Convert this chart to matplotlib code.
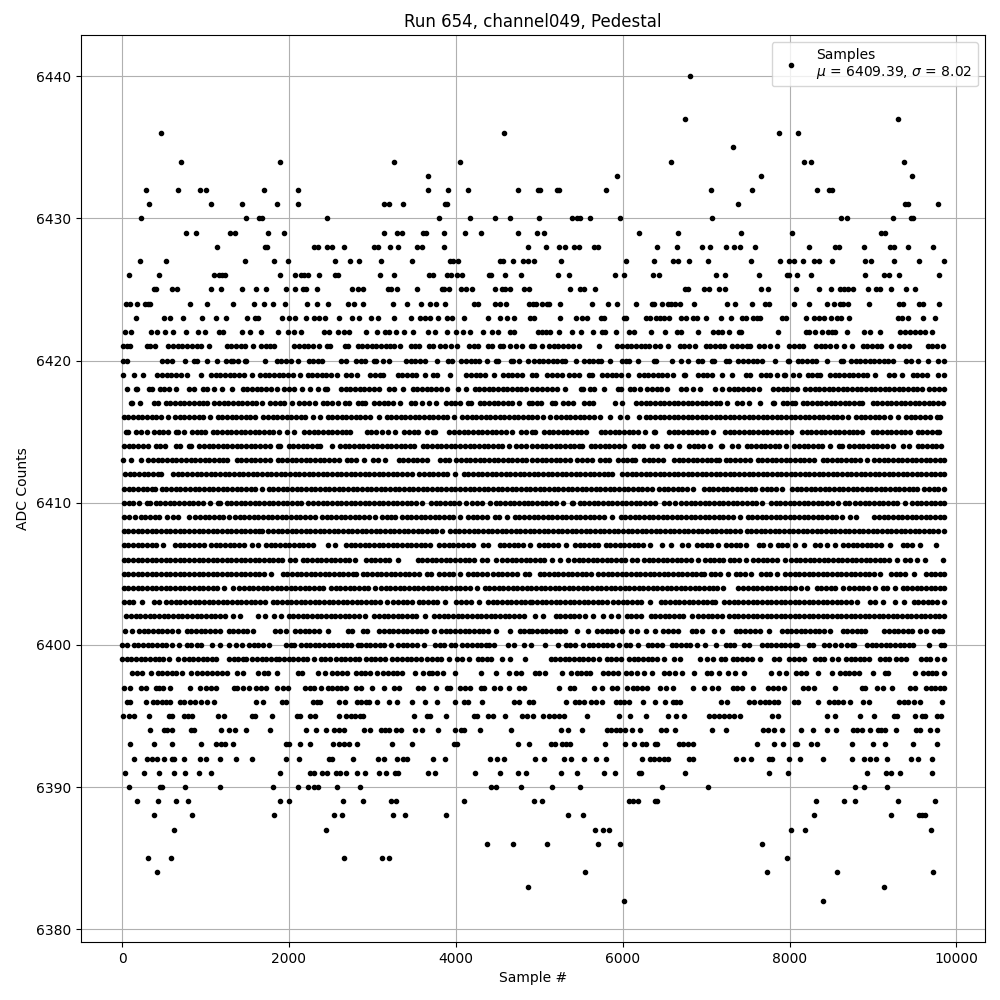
import matplotlib
matplotlib.use("Agg")
import matplotlib.pyplot as plt

# sample numbers at each ADC level
c6440 = [6804]
c6437 = [6744, 9300]
c6436 = [464, 4580, 7872, 8100]
c6435 = [7320]
c6434 = [704, 1892, 3260, 4052, 6576, 8172, 8256, 9372]
c6433 = [3668, 5928, 7656, 9468]
c6432 = [284, 668, 932, 1004, 1700, 2108, 3668, 3908, 4148, 4748, 4980, 5004, 5208, 5232, 5796, 7056, 7548, 8328, 8472, 8508]
c6431 = [320, 1064, 1436, 1856, 2108, 3140, 3200, 3368, 3876, 3900, 7380, 9384, 9420, 9780]
c6430 = [224, 1484, 1640, 1680, 2456, 3800, 4172, 4472, 4652, 4992, 5388, 5448, 5484, 5604, 5964, 7068, 8616, 8688, 9240, 9456, 9480]
c6429 = [764, 884, 1292, 1352, 1748, 1940, 3140, 3296, 3356, 3608, 3644, 3860, 4112, 4304, 4748, 4968, 5052, 6192, 6660, 7416, 8028, 9096, 9144]
c6428 = [1136, 1712, 1736, 2300, 2348, 2456, 2516, 2660, 3020, 3068, 3212, 3308, 3536, 3596, 3860, 4868, 5076, 5232, 5304, 5412, 5472, 5652, 5700, 6408, 6648, 6948, 7044, 7236, 7332, 7404, 7584, 8232, 8544, 8592, 8892, 9204, 9252, 9420, 9720]
c6427 = [212, 524, 1472, 1820, 1988, 2552, 2732, 2840, 3104, 3476, 3932, 3968, 4028, 4532, 4568, 4688, 4808, 4868, 4932, 5256, 6036, 6372, 6600, 6660, 6792, 7020, 7536, 7884, 7992, 8052, 8160, 8292, 8352, 8508, 8904, 8976, 9252, 9552, 9850]
c6426 = [80, 440, 1100, 1160, 1196, 1232, 1892, 2072, 2144, 2180, 2228, 2360, 2552, 2588, 3092, 3260, 3680, 3728, 3896, 3944, 4016, 4076, 4400, 4424, 4592, 4784, 5220, 5352, 5904, 6012, 6360, 6432, 7116, 7224, 7632, 7968, 7992, 8088, 8256, 8904, 9132, 9192, 9312, 9792]
c6425 = [380, 404, 596, 656, 1064, 1184, 1436, 1604, 1724, 1964, 2072, 2168, 2204, 2336, 2756, 2828, 2888, 3188, 3224, 3296, 3536, 3836, 3860, 3920, 4064, 4124, 4196, 4472, 4556, 4592, 4652, 4820, 4880, 5364, 5484, 5532, 5664, 6744, 6780, 6972, 7032, 7152, 7224, 7656, 7740, 8076, 8352, 8496, 8604, 8652, 8700, 8760, 8940, 9036, 9084, 9216, 9396, 9504]
c6424 = [44, 92, 176, 272, 308, 332, 812, 1016, 1328, 1580, 1700, 1808, 1952, 2216, 2336, 2468, 2708, 2780, 2888, 3244, 3416, 3584, 3692, 3764, 3872, 4220, 4268, 4472, 4532, 4604, 4880, 4920, 4956, 5028, 5088, 5112, 5244, 5628, 5820, 5928, 6156, 6348, 6372, 6468, 6540, 6576, 6624, 6684, 6852, 7248, 7344, 7548, 7704, 7752, 8052, 8232, 8448, 8532, 8604, 8640, 8700, 8952, 9312, 9360, 9552, 9600, 9792]
c6423 = [164, 500, 572, 728, 956, 1124, 1244, 1496, 1592, 1628, 1916, 2000, 2072, 2204, 2300, 2360, 2432, 2600, 2756, 2840, 2984, 3068, 3260, 3464, 3572, 3632, 3692, 3788, 3896, 3956, 4100, 4388, 4532, 4616, 4700, 4892, 4932, 5244, 5436, 5508, 5568, 5736, 5772, 6012, 6036, 6276, 6324, 6396, 6444, 6492, 6552, 6696, 6756, 6840, 6888, 6996, 7176, 7296, 7428, 7476, 7560, 7608, 7644, 7908, 7956, 8196, 8292, 8352, 8412, 8496, 8568, 8616, 8712, 9300, 9348, 9420, 9600, 9744]
c6422 = [32, 104, 344, 416, 512, 616, 764, 908, 992, 1160, 1208, 1436, 1532, 1664, 1868, 1988, 2060, 2144, 2420, 2480, 2588, 2660, 2720, 2924, 3056, 3152, 3200, 3284, 3380, 3488, 3668, 3752, 3896, 4004, 4088, 4172, 4328, 4436, 4508, 4652, 4700, 4980, 5028, 5076, 5124, 5232, 5388, 5496, 5640, 5748, 5784, 5916, 6072, 6132, 6336, 6504, 6648, 6696, 6900, 7080, 7140, 7188, 7272, 7392, 7416, 7860, 8196, 8232, 8304, 8388, 8460, 8508, 8544, 8688, 8892, 8964, 9084, 9324, 9384, 9444, 9504, 9564, 9624, 9708]
c6421 = [10, 60, 100, 296, 340, 390, 556, 612, 668, 724, 780, 836, 892, 948, 1036, 1252, 1308, 1364, 1420, 1476, 1572, 1664, 1720, 1776, 1820, 2064, 2120, 2176, 2232, 2288, 2356, 2452, 2496, 2672, 2710, 2824, 2880, 2936, 2992, 3048, 3104, 3160, 3216, 3264, 3332, 3464, 3516, 3564, 3676, 3724, 3812, 3868, 3940, 4020, 4156, 4212, 4264, 4384, 4428, 4524, 4568, 4652, 4724, 4796, 4900, 4940, 5028, 5116, 5172, 5228, 5284, 5340, 5404, 5472, 5712, 5936, 5992, 6048, 6104, 6160, 6216, 6272, 6316, 6388, 6452, 6540, 6684, 6740, 6796, 6868, 6996, 7052, 7108, 7164, 7212, 7316, 7372, 7428, 7484, 7524, 7636, 7692, 7768, 7852, 7996, 8052, 8108, 8160, 8316, 8372, 8428, 8484, 8552, 8656, 8752, 8876, 8932, 8988, 9044, 9100, 9212, 9316, 9372, 9432, 9656, 9712, 9768, 9836]
c6420 = [10, 56, 484, 540, 596, 752, 864, 900, 1020, 1136, 1244, 1300, 1328, 1388, 1476, 1484, 1712, 1852, 1908, 1964, 2020, 2108, 2236, 2292, 2348, 2400, 2624, 2680, 2804, 2860, 2916, 3024, 3040, 3132, 3200, 3404, 3460, 3516, 3572, 3636, 3776, 3904, 3960, 4064, 4120, 4176, 4232, 4280, 4372, 4484, 4500, 4664, 4680, 4760, 4860, 4936, 4992, 5048, 5104, 5160, 5216, 5272, 5312, 5440, 5536, 5592, 5648, 5704, 5736, 5844, 5988, 6044, 6072, 6180, 6376, 6396, 6588, 6696, 6780, 6900, 6956, 7076, 7096, 7236, 7272, 7388, 7444, 7500, 7556, 7612, 7668, 7824, 7976, 7996, 8096, 8152, 8208, 8264, 8316, 8444, 8616, 8644, 8736, 8792, 8848, 8904, 8960, 9016, 9072, 9128, 9184, 9236, 9396, 9452, 9536, 9660, 9776, 9848]
c6419 = [8, 140, 248, 424, 480, 536, 592, 648, 704, 776, 940, 1064, 1120, 1176, 1232, 1288, 1344, 1400, 1456, 1556, 1652, 1708, 1764, 1820, 1876, 1932, 1988, 2044, 2136, 2224, 2280, 2336, 2392, 2448, 2504, 2576, 2684, 2740, 2816, 2976, 3032, 3088, 3124, 3304, 3360, 3416, 3472, 3528, 3636, 3724, 3780, 3936, 4124, 4180, 4236, 4292, 4348, 4456, 4564, 4620, 4676, 4732, 4796, 4916, 4966, 5096, 5152, 5208, 5268, 5356, 5412, 5476, 5596, 5628, 5756, 5812, 5868, 5924, 5980, 6068, 6196, 6252, 6308, 6364, 6420, 6476, 6532, 6608, 6736, 6748, 6904, 6960, 7016, 7072, 7188, 7308, 7476, 7528, 7656, 7712, 7768, 7848, 7936, 7948, 8036, 8116, 8216, 8272, 8328, 8368, 8484, 8540, 8596, 8652, 8708, 8764, 8820, 8876, 8932, 9028, 9196, 9252, 9348, 9476, 9532, 9588, 9648, 9780, 9848]
c6418 = [60, 164, 176, 324, 356, 452, 508, 564, 644, 804, 856, 964, 1020, 1096, 1192, 1312, 1444, 1500, 1556, 1612, 1668, 1724, 1780, 1856, 1944, 2000, 2056, 2152, 2252, 2348, 2436, 2456, 2624, 2680, 2736, 2792, 2848, 2904, 2960, 3016, 3076, 3204, 3260, 3364, 3484, 3540, 3596, 3652, 3708, 3764, 3820, 3896, 4024, 4116, 4224, 4280, 4336, 4392, 4448, 4504, 4560, 4616, 4672, 4728, 4784, 4840, 4916, 4972, 5028, 5096, 5152, 5208, 5308, 5496, 5528, 5604, 5660, 5780, 5948, 5980, 6084, 6140, 6208, 6296, 6352, 6408, 6464, 6528, 6704, 6760, 6848, 6932, 7108, 7196, 7276, 7332, 7388, 7444, 7500, 7556, 7636, 7804, 7860, 7916, 7972, 8028, 8088, 8188, 8244, 8300, 8356, 8412, 8468, 8524, 8580, 8636, 8692, 8748, 8804, 8860, 8916, 8972, 9028, 9084, 9140, 9196, 9252, 9308, 9364, 9420, 9476, 9532, 9588, 9676, 9732, 9788, 9848]
c6417 = [104, 116, 220, 384, 436, 524, 580, 636, 692, 748, 804, 860, 916, 972, 1016, 1104, 1160, 1216, 1272, 1328, 1384, 1440, 1496, 1552, 1608, 1676, 1776, 1832, 1888, 1944, 2036, 2124, 2180, 2236, 2308, 2404, 2460, 2516, 2588, 2676, 2716, 2824, 2880, 2916, 3024, 3080, 3136, 3192, 3248, 3336, 3464, 3516, 3600, 3680, 3760, 3884, 3940, 3996, 4056, 4144, 4176, 4284, 4340, 4396, 4452, 4508, 4564, 4620, 4676, 4756, 4876, 4916, 4976, 5024, 5156, 5188, 5284, 5340, 5408, 5536, 5592, 5648, 5908, 5996, 6164, 6220, 6276, 6332, 6388, 6444, 6500, 6556, 6612, 6668, 6724, 6780, 6836, 6892, 6948, 7004, 7060, 7116, 7172, 7252, 7376, 7432, 7508, 7644, 7796, 7808, 7916, 7972, 8028, 8068, 8156, 8212, 8268, 8324, 8380, 8436, 8492, 8548, 8604, 8660, 8716, 8772, 8828, 8868, 8996, 9052, 9108, 9164, 9220, 9276, 9332, 9388, 9444, 9500, 9556, 9612, 9668, 9724, 9780, 9836]
c6416 = [20, 76, 132, 188, 244, 300, 356, 412, 468, 556, 636, 692, 748, 804, 860, 916, 972, 1056, 1144, 1200, 1256, 1312, 1368, 1424, 1480, 1536, 1596, 1692, 1748, 1804, 1860, 1916, 1972, 2028, 2084, 2140, 2196, 2284, 2372, 2464, 2520, 2576, 2632, 2688, 2744, 2800, 2856, 2912, 2968, 3076, 3172, 3228, 3284, 3340, 3396, 3452, 3508, 3564, 3620, 3676, 3732, 3788, 3844, 3900, 3976, 4076, 4132, 4188, 4244, 4300, 4356, 4412, 4468, 4524, 4580, 4636, 4692, 4748, 4804, 4860, 4916, 4972, 5048, 5124, 5204, 5260, 5316, 5372, 5428, 5484, 5540, 5596, 5652, 5728, 5844, 5972, 6052, 6192, 6276, 6332, 6388, 6444, 6500, 6556, 6612, 6668, 6724, 6780, 6836, 6892, 6948, 7004, 7060, 7116, 7172, 7228, 7284, 7340, 7396, 7452, 7508, 7564, 7620, 7676, 7732, 7788, 7844, 7900, 7956, 8012, 8068, 8124, 8180, 8236, 8292, 8348, 8404, 8460, 8516, 8572, 8628, 8700, 8796, 8852, 8908, 8964, 9020, 9076, 9132, 9208, 9304, 9396, 9452, 9508, 9564, 9620, 9688, 9764, 9808]
c6415 = [44, 68, 172, 228, 296, 384, 440, 496, 556, 652, 668, 740, 836, 892, 948, 996, 1084, 1140, 1196, 1252, 1308, 1364, 1420, 1476, 1532, 1588, 1644, 1700, 1756, 1812, 1876, 1976, 2056, 2184, 2240, 2296, 2352, 2408, 2464, 2520, 2576, 2632, 2688, 2736, 2932, 2988, 3044, 3116, 3188, 3268, 3384, 3440, 3496, 3552, 3656, 3732, 3756, 3924, 3980, 4036, 4092, 4148, 4204, 4260, 4316, 4372, 4428, 4484, 4540, 4596, 4676, 4784, 4840, 4916, 4948, 5056, 5112, 5168, 5224, 5280, 5336, 5392, 5448, 5504, 5556, 5736, 5792, 5848, 5904, 5960, 6016, 6072, 6128, 6184, 6268, 6376, 6388, 6556, 6612, 6668, 6724, 6780, 6836, 6892, 6948, 7004, 7088, 7228, 7284, 7340, 7396, 7452, 7508, 7564, 7620, 7676, 7732, 7788, 7844, 7900, 7956, 8020, 8148, 8204, 8260, 8316, 8372, 8428, 8484, 8540, 8596, 8652, 8708, 8764, 8808, 8872, 8996, 9052, 9108, 9164, 9220, 9276, 9332, 9388, 9448, 9536, 9592, 9648, 9704, 9764, 9796]
c6414 = [24, 80, 136, 192, 248, 316, 404, 460, 516, 644, 696, 796, 828, 924, 980, 1036, 1092, 1148, 1204, 1260, 1316, 1372, 1428, 1484, 1540, 1596, 1652, 1708, 1776, 1864, 1896, 1996, 2052, 2108, 2164, 2220, 2276, 2332, 2376, 2516, 2612, 2668, 2724, 2780, 2836, 2892, 2948, 3004, 3060, 3116, 3172, 3228, 3284, 3340, 3396, 3452, 3496, 3604, 3660, 3716, 3772, 3828, 3884, 3940, 3996, 4052, 4108, 4164, 4220, 4276, 4332, 4388, 4444, 4500, 4556, 4636, 4724, 4780, 4836, 4916, 4972, 5028, 5084, 5140, 5196, 5252, 5308, 5364, 5420, 5476, 5508, 5616, 5672, 5728, 5784, 5840, 5896, 5952, 6020, 6136, 6192, 6248, 6348, 6408, 6516, 6576, 6676, 6796, 6852, 6908, 6964, 7048, 7176, 7188, 7308, 7380, 7484, 7540, 7596, 7652, 7708, 7764, 7820, 7876, 7956, 8056, 8112, 8168, 8224, 8280, 8336, 8392, 8488, 8596, 8628, 8716, 8772, 8828, 8884, 8940, 8996, 9052, 9108, 9164, 9236, 9356, 9428, 9536, 9592, 9648, 9704, 9760, 9820]
c6413 = [12, 108, 228, 316, 372, 428, 484, 540, 596, 652, 708, 764, 820, 876, 932, 988, 1044, 1100, 1156, 1212, 1256, 1372, 1428, 1484, 1540, 1596, 1652, 1708, 1776, 1864, 1920, 1976, 2032, 2088, 2144, 2200, 2256, 2312, 2368, 2424, 2480, 2536, 2604, 2692, 2748, 2804, 2896, 3012, 3068, 3148, 3316, 3372, 3428, 3484, 3540, 3596, 3660, 3812, 3868, 3924, 4004, 4060, 4116, 4172, 4228, 4284, 4340, 4396, 4452, 4508, 4564, 4620, 4676, 4732, 4788, 4844, 4916, 4972, 5028, 5084, 5140, 5196, 5252, 5308, 5368, 5456, 5512, 5568, 5636, 5728, 5784, 5836, 5944, 6000, 6056, 6112, 6148, 6256, 6312, 6368, 6424, 6488, 6616, 6672, 6728, 6784, 6840, 6896, 6952, 7008, 7064, 7120, 7156, 7236, 7292, 7348, 7404, 7460, 7528, 7616, 7672, 7728, 7784, 7840, 7896, 7952, 8008, 8064, 8120, 8176, 8232, 8288, 8396, 8452, 8508, 8564, 8620, 8676, 8732, 8788, 8844, 8928, 9016, 9072, 9128, 9184, 9240, 9296, 9352, 9408, 9464, 9520, 9576, 9632, 9688, 9744, 9800, 9850]
c6412 = [36, 92, 148, 204, 260, 316, 372, 428, 468, 612, 668, 724, 780, 836, 892, 948, 1004, 1060, 1116, 1172, 1228, 1284, 1340, 1396, 1452, 1508, 1564, 1620, 1676, 1732, 1788, 1844, 1900, 1956, 2012, 2068, 2124, 2180, 2236, 2292, 2348, 2404, 2460, 2516, 2572, 2628, 2684, 2740, 2796, 2852, 2908, 2964, 3020, 3076, 3132, 3188, 3244, 3300, 3356, 3412, 3476, 3564, 3620, 3676, 3732, 3788, 3844, 3900, 3996, 4092, 4148, 4204, 4260, 4316, 4372, 4428, 4484, 4540, 4596, 4652, 4708, 4764, 4820, 4876, 4932, 4988, 5044, 5100, 5156, 5212, 5268, 5324, 5380, 5436, 5492, 5548, 5604, 5660, 5716, 5772, 5828, 5868, 5996, 6052, 6108, 6164, 6220, 6276, 6332, 6388, 6444, 6500, 6556, 6612, 6668, 6724, 6780, 6836, 6892, 6948, 7004, 7060, 7116, 7172, 7228, 7284, 7340, 7396, 7452, 7508, 7564, 7620, 7676, 7732, 7788, 7844, 7900, 7956, 8012, 8068, 8124, 8180, 8236, 8292, 8348, 8404, 8460, 8516, 8572, 8628, 8684, 8740, 8796, 8852, 8908, 8964, 9020, 9076, 9132, 9188, 9244, 9300, 9356, 9412, 9468, 9524, 9580, 9636, 9692, 9748, 9804, 9848]
c6411 = [24, 80, 136, 192, 248, 304, 360, 396, 476, 532, 588, 644, 700, 756, 812, 868, 924, 980, 1036, 1092, 1148, 1204, 1260, 1316, 1372, 1428, 1484, 1540, 1596, 1676, 1756, 1812, 1868, 1924, 1980, 2036, 2092, 2148, 2204, 2260, 2316, 2372, 2428, 2484, 2540, 2596, 2652, 2708, 2764, 2820, 2876, 2932, 2988, 3044, 3100, 3156, 3212, 3268, 3324, 3380, 3436, 3492, 3548, 3604, 3660, 3716, 3772, 3828, 3884, 3940, 3996, 4052, 4108, 4164, 4220, 4276, 4332, 4388, 4444, 4500, 4556, 4612, 4668, 4724, 4780, 4836, 4892, 4948, 5004, 5060, 5116, 5172, 5228, 5284, 5340, 5396, 5452, 5508, 5564, 5620, 5676, 5732, 5788, 5844, 5900, 5956, 6012, 6068, 6124, 6180, 6236, 6288, 6352, 6436, 6492, 6548, 6604, 6660, 6716, 6772, 6848, 6976, 7032, 7088, 7144, 7200, 7256, 7312, 7368, 7424, 7480, 7536, 7588, 7668, 7724, 7780, 7836, 7908, 8028, 8084, 8140, 8196, 8252, 8308, 8364, 8420, 8476, 8532, 8588, 8644, 8700, 8756, 8812, 8868, 8924, 8980, 9036, 9092, 9148, 9204, 9260, 9316, 9372, 9428, 9484, 9528, 9616, 9672, 9728, 9784, 9848]
c6410 = [24, 80, 136, 204, 304, 336, 404, 460, 516, 572, 628, 684, 740, 796, 852, 908, 964, 1056, 1144, 1176, 1252, 1308, 1364, 1420, 1476, 1532, 1588, 1644, 1700, 1756, 1812, 1868, 1924, 1980, 2036, 2092, 2148, 2228, 2292, 2348, 2404, 2460, 2516, 2572, 2628, 2684, 2740, 2796, 2852, 2908, 2964, 3020, 3076, 3132, 3188, 3244, 3300, 3356, 3412, 3468, 3524, 3596, 3704, 3760, 3816, 3872, 3928, 3984, 4040, 4116, 4196, 4252, 4308, 4404, 4476, 4532, 4588, 4644, 4700, 4756, 4812, 4868, 4916, 4972, 5028, 5084, 5140, 5196, 5288, 5388, 5408, 5484, 5540, 5596, 5652, 5708, 5764, 5820, 5876, 5932, 5988, 6044, 6100, 6156, 6212, 6268, 6324, 6388, 6500, 6556, 6628, 6704, 6760, 6816, 6872, 6928, 6984, 7040, 7096, 7152, 7208, 7264, 7320, 7376, 7432, 7488, 7544, 7600, 7668, 7776, 7832, 7888, 7944, 8000, 8056, 8112, 8168, 8224, 8280, 8336, 8392, 8448, 8504, 8580, 8668, 8708, 8788, 8844, 8900, 8956, 9012, 9068, 9124, 9180, 9236, 9292, 9380, 9468, 9524, 9580, 9636, 9692, 9748, 9804, 9848]
c6409 = [24, 80, 156, 224, 280, 336, 392, 448, 536, 612, 668, 796, 876, 932, 988, 1044, 1100, 1156, 1212, 1276, 1352, 1408, 1464, 1520, 1576, 1632, 1688, 1744, 1800, 1856, 1912, 1968, 2024, 2080, 2136, 2192, 2248, 2316, 2396, 2452, 2508, 2564, 2620, 2676, 2732, 2788, 2844, 2900, 2956, 3036, 3116, 3172, 3228, 3276, 3356, 3412, 3468, 3524, 3580, 3636, 3692, 3748, 3804, 3860, 3916, 3972, 4056, 4144, 4200, 4256, 4312, 4376, 4464, 4520, 4616, 4704, 4760, 4816, 4876, 4932, 4988, 5044, 5100, 5156, 5212, 5268, 5324, 5380, 5436, 5492, 5548, 5604, 5660, 5716, 5772, 5868, 5976, 6032, 6088, 6144, 6200, 6256, 6312, 6368, 6424, 6480, 6536, 6592, 6648, 6704, 6760, 6816, 6872, 6928, 6984, 7040, 7096, 7152, 7208, 7264, 7320, 7408, 7496, 7552, 7608, 7664, 7720, 7776, 7832, 7888, 7944, 8000, 8056, 8112, 8168, 8224, 8280, 8336, 8392, 8448, 8504, 8560, 8628, 8724, 8796, 9016, 9072, 9128, 9184, 9240, 9296, 9352, 9408, 9464, 9520, 9576, 9632, 9688, 9744, 9800, 9850]
c6408 = [20, 76, 132, 188, 244, 300, 356, 412, 468, 524, 580, 636, 692, 748, 804, 860, 916, 972, 1028, 1084, 1140, 1196, 1252, 1308, 1364, 1420, 1476, 1532, 1588, 1644, 1676, 1752, 1808, 1864, 1920, 1976, 2032, 2088, 2144, 2200, 2256, 2312, 2368, 2424, 2480, 2536, 2592, 2648, 2704, 2760, 2816, 2872, 2928, 2984, 3040, 3096, 3152, 3208, 3264, 3320, 3376, 3432, 3488, 3544, 3600, 3656, 3712, 3768, 3836, 3932, 3988, 4044, 4100, 4156, 4212, 4268, 4324, 4380, 4436, 4492, 4548, 4604, 4660, 4716, 4772, 4828, 4884, 4940, 4996, 5052, 5108, 5164, 5220, 5276, 5332, 5388, 5444, 5500, 5556, 5612, 5668, 5724, 5780, 5836, 5892, 5948, 6004, 6060, 6116, 6172, 6228, 6284, 6340, 6396, 6452, 6508, 6564, 6620, 6676, 6732, 6788, 6844, 6900, 6956, 7012, 7068, 7124, 7180, 7236, 7292, 7348, 7408, 7484, 7540, 7596, 7652, 7708, 7764, 7820, 7876, 7932, 7988, 8044, 8100, 8156, 8212, 8268, 8324, 8380, 8436, 8492, 8548, 8604, 8660, 8716, 8772, 8828, 8884, 8940, 8996, 9052, 9108, 9164, 9220, 9276, 9332, 9388, 9444, 9500, 9556, 9612, 9668, 9724, 9780, 9848]
c6407 = [20, 76, 132, 188, 244, 300, 356, 412, 496, 636, 692, 748, 804, 860, 916, 976, 1064, 1120, 1176, 1232, 1288, 1344, 1400, 1456, 1556, 1628, 1724, 1780, 1836, 1892, 1948, 2004, 2060, 2116, 2172, 2228, 2284, 2468, 2556, 2684, 2740, 2796, 2852, 2908, 2964, 3020, 3076, 3132, 3188, 3244, 3300, 3356, 3412, 3468, 3524, 3580, 3636, 3696, 3804, 3860, 3916, 3972, 4028, 4084, 4140, 4204, 4324, 4388, 4524, 4580, 4636, 4692, 4748, 4804, 4892, 4996, 5052, 5108, 5164, 5220, 5316, 5428, 5484, 5540, 5596, 5652, 5708, 5796, 5852, 5908, 5964, 6020, 6076, 6132, 6188, 6244, 6328, 6476, 6580, 6716, 6780, 6896, 6952, 7008, 7064, 7148, 7244, 7300, 7356, 7412, 7476, 7628, 7684, 7768, 7856, 7912, 7968, 8060, 8172, 8308, 8364, 8448, 8540, 8644, 8700, 8756, 8812, 8868, 8924, 8980, 9036, 9092, 9208, 9356, 9412, 9468, 9568, 9752]
c6406 = [20, 76, 132, 188, 244, 300, 356, 412, 468, 524, 580, 636, 692, 748, 804, 860, 916, 972, 1028, 1084, 1140, 1196, 1252, 1308, 1364, 1420, 1476, 1532, 1588, 1644, 1700, 1756, 1812, 1868, 1916, 2012, 2076, 2164, 2220, 2276, 2332, 2388, 2444, 2500, 2556, 2612, 2668, 2724, 2796, 2924, 2980, 3036, 3092, 3148, 3204, 3304, 3544, 3600, 3656, 3712, 3768, 3824, 3880, 3936, 3992, 4048, 4104, 4160, 4216, 4316, 4372, 4476, 4556, 4612, 4668, 4724, 4780, 4836, 4892, 4948, 5004, 5060, 5148, 5244, 5340, 5416, 5472, 5528, 5584, 5640, 5696, 5752, 5808, 5864, 5920, 5976, 6028, 6108, 6168, 6256, 6312, 6368, 6424, 6480, 6536, 6592, 6648, 6704, 6760, 6816, 6900, 6988, 7044, 7100, 7156, 7208, 7284, 7340, 7396, 7476, 7564, 7620, 7676, 7732, 7788, 7844, 7940, 8016, 8072, 8128, 8184, 8240, 8296, 8352, 8408, 8464, 8520, 8576, 8632, 8688, 8744, 8800, 8856, 8912, 8968, 9024, 9080, 9136, 9192, 9288, 9388, 9444, 9528, 9624, 9844]
c6405 = [20, 76, 132, 188, 244, 300, 356, 412, 468, 524, 580, 636, 692, 748, 804, 860, 916, 972, 1028, 1084, 1140, 1196, 1252, 1308, 1364, 1420, 1476, 1532, 1588, 1644, 1700, 1788, 1924, 1980, 2036, 2092, 2148, 2204, 2260, 2316, 2372, 2428, 2484, 2540, 2596, 2652, 2708, 2764, 2804, 2884, 2940, 2996, 3052, 3108, 3164, 3220, 3276, 3332, 3388, 3444, 3500, 3556, 3656, 3708, 3804, 3860, 3916, 3972, 4056, 4144, 4200, 4256, 4312, 4376, 4444, 4500, 4556, 4612, 4668, 4736, 4824, 4876, 5004, 5060, 5116, 5172, 5228, 5284, 5340, 5396, 5452, 5508, 5564, 5620, 5708, 5764, 5820, 5876, 5932, 5988, 6044, 6100, 6156, 6212, 6268, 6324, 6380, 6436, 6492, 6548, 6604, 6660, 6716, 6772, 6828, 6884, 6940, 6980, 7056, 7112, 7168, 7268, 7356, 7412, 7468, 7540, 7656, 7712, 7768, 7848, 7948, 8004, 8060, 8116, 8172, 8228, 8284, 8340, 8396, 8452, 8508, 8564, 8620, 8676, 8732, 8788, 8844, 8900, 8956, 9012, 9088, 9216, 9272, 9328, 9384, 9488, 9636, 9692, 9748, 9804, 9848]
c6404 = [20, 76, 132, 188, 244, 300, 356, 412, 468, 524, 580, 636, 692, 748, 804, 860, 916, 972, 1028, 1084, 1136, 1224, 1324, 1404, 1460, 1516, 1572, 1628, 1684, 1740, 1796, 1852, 1908, 1964, 2020, 2076, 2132, 2188, 2244, 2300, 2356, 2404, 2504, 2560, 2616, 2672, 2728, 2784, 2840, 2896, 2952, 3028, 3104, 3160, 3216, 3272, 3328, 3384, 3440, 3496, 3552, 3608, 3664, 3720, 3776, 3832, 3888, 3944, 4000, 4056, 4112, 4168, 4256, 4344, 4400, 4456, 4512, 4568, 4624, 4680, 4736, 4792, 4848, 4904, 4960, 5016, 5072, 5128, 5184, 5240, 5296, 5352, 5408, 5464, 5520, 5576, 5632, 5688, 5744, 5800, 5856, 5912, 5968, 6024, 6080, 6136, 6192, 6248, 6304, 6360, 6416, 6472, 6528, 6584, 6640, 6696, 6752, 6808, 6864, 6920, 6976, 7032, 7088, 7128, 7204, 7388, 7444, 7500, 7556, 7612, 7668, 7724, 7780, 7836, 7892, 7948, 8004, 8060, 8136, 8208, 8324, 8380, 8436, 8492, 8548, 8636, 8716, 8772, 8828, 8884, 8940, 9028, 9116, 9172, 9268, 9356, 9412, 9468, 9524, 9580, 9636, 9692, 9748, 9804, 9848]
c6403 = [24, 80, 136, 244, 384, 448, 532, 588, 644, 700, 756, 812, 868, 924, 980, 1036, 1092, 1148, 1204, 1260, 1316, 1372, 1428, 1484, 1540, 1596, 1652, 1716, 1804, 1860, 1916, 1972, 2028, 2084, 2140, 2196, 2252, 2308, 2364, 2420, 2476, 2532, 2588, 2644, 2700, 2756, 2812, 2868, 2924, 2980, 3036, 3092, 3176, 3252, 3308, 3364, 3420, 3476, 3556, 3612, 3668, 3724, 3780, 3868, 4004, 4060, 4116, 4176, 4276, 4384, 4440, 4496, 4552, 4608, 4664, 4720, 4776, 4832, 4888, 4916, 4972, 5028, 5084, 5140, 5196, 5252, 5308, 5364, 5420, 5476, 5532, 5588, 5644, 5700, 5756, 5808, 5888, 5944, 6000, 6056, 6112, 6168, 6224, 6328, 6456, 6512, 6568, 6624, 6680, 6736, 6792, 6848, 6904, 6960, 7016, 7072, 7108, 7220, 7276, 7332, 7388, 7444, 7500, 7556, 7612, 7668, 7724, 7780, 7836, 7892, 7948, 8004, 8060, 8116, 8172, 8228, 8284, 8340, 8396, 8452, 8508, 8564, 8620, 8676, 8732, 8808, 8964, 9020, 9116, 9268, 9368, 9488, 9544, 9600, 9656, 9712, 9768, 9848]
c6402 = [52, 108, 164, 220, 276, 332, 388, 444, 500, 556, 612, 668, 724, 780, 836, 892, 948, 1004, 1060, 1116, 1172, 1236, 1332, 1416, 1624, 1716, 1824, 1908, 1996, 2052, 2108, 2164, 2220, 2276, 2332, 2388, 2444, 2500, 2556, 2612, 2668, 2724, 2780, 2836, 2916, 3024, 3080, 3136, 3192, 3248, 3304, 3360, 3416, 3472, 3528, 3628, 3744, 3800, 3856, 3912, 3968, 4024, 4080, 4136, 4192, 4248, 4304, 4360, 4416, 4472, 4528, 4584, 4640, 4696, 4752, 4816, 4948, 5048, 5196, 5252, 5308, 5364, 5420, 5476, 5548, 5648, 5768, 5856, 5940, 6048, 6104, 6160, 6220, 6336, 6392, 6448, 6504, 6560, 6616, 6672, 6728, 6828, 6908, 6964, 7020, 7076, 7132, 7188, 7276, 7332, 7388, 7444, 7500, 7556, 7612, 7668, 7724, 7780, 7836, 7892, 7948, 8004, 8060, 8116, 8172, 8228, 8284, 8340, 8396, 8452, 8508, 8564, 8620, 8676, 8732, 8788, 8844, 8900, 8956, 9012, 9068, 9124, 9180, 9236, 9292, 9348, 9404, 9460, 9516, 9572, 9628, 9684, 9740, 9796, 9848]
c6401 = [36, 116, 204, 260, 316, 372, 428, 484, 540, 596, 676, 772, 828, 884, 940, 996, 1052, 1108, 1176, 1276, 1332, 1388, 1444, 1500, 1564, 1836, 1892, 1964, 2076, 2132, 2188, 2244, 2300, 2356, 2468, 2704, 2756, 2884, 2936, 3084, 3140, 3196, 3252, 3308, 3364, 3420, 3476, 3532, 3588, 3644, 3736, 3824, 3880, 3936, 3992, 4048, 4104, 4160, 4216, 4272, 4328, 4384, 4476, 4652, 4764, 4820, 4876, 4916, 4972, 5028, 5084, 5140, 5196, 5252, 5308, 5452, 5580, 5696, 5752, 5808, 5864, 5920, 5988, 6096, 6168, 6284, 6392, 6488, 6544, 6600, 6668, 6828, 6884, 6956, 7096, 7188, 7356, 7412, 7468, 7524, 7580, 7648, 7752, 7908, 7964, 8020, 8076, 8132, 8188, 8244, 8300, 8356, 8412, 8488, 8636, 8692, 8748, 8804, 8860, 8908, 9136, 9192, 9248, 9304, 9360, 9416, 9472, 9568, 9636, 9736, 9792, 9828]
c6400 = [0, 60, 140, 196, 252, 308, 364, 420, 476, 532, 600, 680, 772, 820, 900, 940, 1076, 1172, 1280, 1360, 1436, 1520, 1576, 1632, 1688, 1760, 1964, 2020, 2060, 2140, 2200, 2252, 2308, 2364, 2420, 2476, 2532, 2588, 2644, 2700, 2740, 2828, 2860, 2920, 2976, 3032, 3088, 3144, 3220, 3308, 3364, 3420, 3476, 3540, 3620, 3752, 3808, 3860, 3940, 3988, 4080, 4136, 4192, 4248, 4304, 4360, 4400, 4460, 4620, 4700, 4820, 4900, 5064, 5220, 5316, 5372, 5428, 5520, 5592, 5648, 5704, 5760, 5816, 5872, 5952, 6036, 6084, 6180, 6300, 6356, 6412, 6468, 6588, 6644, 6700, 6756, 6812, 6888, 6984, 7116, 7236, 7292, 7332, 7452, 7512, 7668, 7724, 7780, 7836, 7892, 7948, 8004, 8060, 8092, 8232, 8280, 8412, 8472, 8544, 8616, 8688, 8744, 8772, 8928, 8984, 9040, 9096, 9152, 9208, 9264, 9320, 9376, 9432, 9480, 9672, 9816, 9850]
c6399 = [0, 56, 112, 168, 224, 280, 340, 396, 440, 488, 560, 668, 740, 796, 852, 908, 964, 1020, 1076, 1120, 1280, 1336, 1392, 1448, 1480, 1560, 1616, 1672, 1728, 1784, 1840, 1880, 1940, 1996, 2052, 2108, 2164, 2220, 2300, 2380, 2436, 2492, 2560, 2620, 2676, 2732, 2788, 2844, 2920, 2980, 3036, 3092, 3148, 3240, 3300, 3356, 3412, 3468, 3524, 3580, 3660, 3716, 3772, 3828, 3920, 4020, 4076, 4160, 4260, 4316, 4372, 4420, 4556, 4652, 4832, 5136, 5192, 5248, 5304, 5360, 5412, 5472, 5528, 5584, 5640, 5712, 5808, 5864, 5920, 5976, 6072, 6132, 6188, 6244, 6300, 6356, 6412, 6492, 6612, 6684, 6924, 7008, 7080, 7176, 7224, 7320, 7376, 7432, 7488, 7544, 7644, 7812, 7872, 7992, 8048, 8112, 8172, 8304, 8360, 8416, 8508, 8580, 8676, 8732, 8788, 8844, 8892, 8952, 9084, 9140, 9192, 9276, 9332, 9396, 9576, 9632, 9688, 9768, 9850]
c6398 = [120, 176, 240, 344, 428, 484, 540, 596, 652, 720, 820, 900, 960, 1016, 1072, 1140, 1200, 1260, 1372, 1452, 1628, 1700, 1748, 1856, 2108, 2160, 2348, 2428, 2516, 2572, 2636, 2692, 2804, 2860, 2916, 2972, 3052, 3132, 3188, 3244, 3300, 3360, 3512, 3608, 3680, 3716, 3772, 3848, 3992, 4304, 4484, 4640, 4724, 4784, 4944, 5000, 5064, 5268, 5376, 5448, 5504, 5560, 5604, 5760, 5820, 5880, 5940, 6036, 6100, 6168, 6252, 6348, 6492, 6556, 6624, 6708, 6852, 7008, 7056, 7152, 7260, 7344, 7452, 7776, 7872, 7956, 8076, 8136, 8196, 8340, 8508, 8604, 8660, 8716, 8772, 8832, 9000, 9144, 9180, 9504, 9600, 9656, 9712, 9756, 9850]
c6397 = [20, 92, 224, 284, 404, 444, 488, 572, 812, 932, 1004, 1064, 1124, 1340, 1376, 1448, 1520, 1604, 1664, 1724, 1856, 1928, 1988, 2192, 2248, 2300, 2384, 2468, 2516, 2572, 2624, 2684, 2804, 2864, 2996, 3140, 3260, 3320, 3548, 3608, 3764, 3896, 3932, 4052, 4112, 4172, 4304, 4340, 4460, 4532, 4640, 4760, 4820, 5232, 5364, 5412, 5652, 5748, 5868, 5928, 6048, 6120, 6176, 6232, 6288, 6444, 6516, 6600, 6840, 6972, 7068, 7140, 7320, 7376, 7428, 7560, 7740, 7800, 7860, 7932, 8160, 8220, 8292, 8544, 8868, 8904, 9048, 9120, 9228, 9444, 9504, 9636, 9692, 9748, 9804, 9850]
c6396 = [56, 92, 284, 368, 424, 476, 524, 572, 692, 740, 812, 872, 944, 1016, 1100, 1604, 1688, 1916, 1964, 2288, 2332, 2372, 2600, 2672, 2816, 2868, 2920, 2960, 3056, 3200, 3296, 3476, 3632, 3776, 3992, 4100, 4140, 4316, 4700, 4760, 4880, 4920, 5316, 5424, 5480, 5532, 5616, 5676, 5748, 5916, 5968, 6012, 6072, 6240, 6384, 6504, 6600, 6644, 6684, 7176, 7248, 7512, 7572, 7644, 7700, 7756, 7812, 7860, 8052, 8100, 8340, 8472, 8528, 8584, 8640, 8724, 8880, 8952, 9312, 9368, 9420, 9492, 9564, 9828]
c6395 = [8, 80, 140, 320, 560, 596, 740, 788, 836, 1148, 1220, 1556, 1592, 1796, 2096, 2132, 2252, 2312, 2600, 2684, 2740, 2796, 2852, 2888, 3500, 3656, 3692, 3884, 4220, 4256, 4388, 4448, 4592, 4796, 4856, 4920, 5040, 5112, 5172, 5232, 5292, 5568, 5952, 6084, 6276, 6540, 6636, 6732, 7032, 7092, 7152, 7212, 7272, 7332, 7404, 7788, 7860, 8448, 8544, 8844, 9012, 9252, 9292, 9504, 9588, 9624, 9768, 9816]
c6394 = [332, 500, 536, 596, 824, 860, 1184, 1280, 1352, 1484, 1772, 2204, 2324, 2444, 2540, 2600, 2660, 2900, 2972, 3104, 3152, 3200, 3284, 3344, 3512, 3596, 3788, 3992, 4064, 4100, 4292, 4664, 5256, 5340, 5508, 5808, 5860, 5916, 5972, 6028, 6108, 6212, 6456, 6516, 6624, 7068, 7236, 7680, 7744, 7812, 7908, 8136, 8280, 8448, 8556, 8760, 8812, 8868, 8964, 9060, 9100, 9144, 9276, 9516, 9564, 9684, 9768]
c6393 = [92, 380, 596, 944, 1124, 1180, 1232, 1328, 1964, 2000, 2132, 2252, 2528, 2600, 2660, 2720, 2816, 3236, 3476, 3980, 4016, 4748, 4880, 5136, 5184, 5268, 5316, 5364, 5784, 6024, 6132, 6228, 6276, 6384, 6408, 6672, 6728, 6784, 6840, 7608, 7812, 7920, 8064, 8088, 8256, 8328, 8748, 9000, 9144, 9480, 9768]
c6392 = [140, 296, 356, 416, 500, 596, 620, 740, 932, 1004, 1168, 1364, 1556, 1964, 2120, 2480, 2516, 2768, 3068, 3140, 3296, 3368, 3416, 3728, 3872, 4412, 4496, 4580, 4944, 5052, 5292, 5376, 5532, 5676, 5796, 6228, 6324, 6380, 6436, 6492, 6540, 6792, 6840, 7356, 7440, 7536, 7752, 7788, 7992, 8124, 8400, 8748, 8892, 8964, 9036, 9168, 9456, 9540, 9708]
c6391 = [32, 260, 440, 620, 752, 920, 1064, 1892, 2252, 2300, 2396, 2456, 2564, 2612, 2684, 2816, 2912, 3080, 3164, 3272, 3308, 3668, 3752, 4232, 4532, 4748, 4844, 5256, 5448, 5772, 5904, 6192, 6216, 6744, 7752, 7980, 8928, 9156, 9216, 9324, 9708]
c6390 = [80, 452, 476, 752, 1172, 1808, 2108, 2228, 2300, 2348, 2576, 2852, 4424, 4484, 4784, 5148, 5484, 6468, 7020, 8784, 8892, 9168]
c6389 = [176, 428, 644, 788, 1892, 2000, 2648, 2888, 3224, 3284, 4100, 4932, 5028, 6072, 6128, 6180, 6384, 6408, 8316, 8652, 8784, 9300, 9744]
c6388 = [380, 836, 1820, 2540, 2636, 3248, 3392, 3884, 5340, 5520, 8292, 9216, 9552, 9588, 9624]
c6387 = [620, 2444, 5664, 5760, 5832, 8016, 8184, 9696]
c6386 = [4376, 4688, 5088, 5700, 5964, 7668]
c6385 = [308, 584, 2660, 3116, 3200, 7968]
c6384 = [416, 5544, 7728, 8568, 9720]
c6383 = [4868, 9132]
c6382 = [6012, 8400]

levels = [6440, 6437, 6436, 6435, 6434, 6433, 6432, 6431, 6430, 6429, 6428, 6427, 6426, 6425, 6424, 6423, 6422,
          6421, 6420, 6419, 6418, 6417, 6416, 6415, 6414, 6413, 6412, 6411, 6410, 6409, 6408, 6407, 6406, 6405,
          6404, 6403, 6402, 6401, 6400, 6399, 6398, 6397, 6396, 6395, 6394, 6393, 6392, 6391, 6390, 6389, 6388,
          6387, 6386, 6385, 6384, 6383, 6382]
rows = [c6440, c6437, c6436, c6435, c6434, c6433, c6432, c6431, c6430, c6429, c6428, c6427, c6426, c6425, c6424, c6423, c6422,
        c6421, c6420, c6419, c6418, c6417, c6416, c6415, c6414, c6413, c6412, c6411, c6410, c6409, c6408, c6407, c6406, c6405,
        c6404, c6403, c6402, c6401, c6400, c6399, c6398, c6397, c6396, c6395, c6394, c6393, c6392, c6391, c6390, c6389, c6388,
        c6387, c6386, c6385, c6384, c6383, c6382]

samples = []
counts = []
for level, row in zip(levels, rows):
    samples += row
    counts += [level] * len(row)

fig, ax = plt.subplots(figsize=(10, 10))
ax.plot(samples, counts, "k.", label="Samples\n$\\mu$ = 6409.39, $\\sigma$ = 8.02")
ax.set_title("Run 654, channel049, Pedestal")
ax.set_xlabel("Sample #")
ax.set_ylabel("ADC Counts")
ax.grid(True)
ax.legend(loc="upper right")
fig.subplots_adjust(left=0.081, right=0.985, top=0.965, bottom=0.058)
fig.savefig("out.png", dpi=100)
